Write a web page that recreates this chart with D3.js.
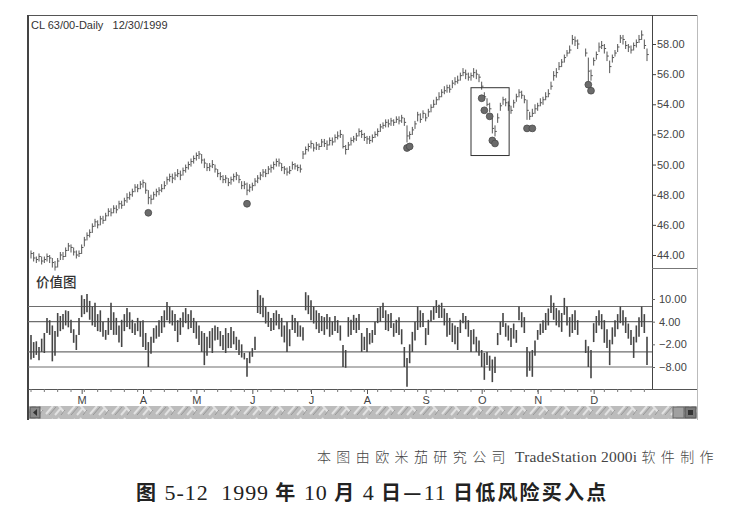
<!DOCTYPE html>
<html><head><meta charset="utf-8">
<script src="https://cdn.jsdelivr.net/npm/d3@7"></script>
<style>body{margin:0;background:#fff;}svg{display:block;}</style>
</head><body>
<svg id="c" width="740" height="520"></svg>
<script>
// ---- data (daily bars, Feb 1 1999 = index 0 ... Dec 30 1999 = index 231) ----
const priceHigh = [
44.3,44.2,43.9,44.1,43.9,43.9,44.1,44.0,43.8,43.6,
43.8,44.2,44.2,44.5,44.8,44.7,44.5,44.3,44.3,44.7,
45.2,45.5,45.7,46.1,46.4,46.3,46.6,46.6,46.8,47.1,
47.1,47.3,47.3,47.6,47.6,47.8,48.1,48.2,48.4,48.7,
48.7,48.9,49.0,48.8,48.3,48.0,48.2,48.4,48.5,48.7,
48.9,49.2,49.4,49.4,49.5,49.7,49.6,49.8,50.0,50.2,
50.4,50.6,50.8,50.9,50.7,50.4,50.1,50.1,50.3,50.0,
49.7,49.5,49.3,49.3,49.1,49.2,49.4,49.5,49.3,48.9,
48.9,48.8,48.7,48.8,49.1,49.3,49.5,49.7,49.7,49.9,
50.0,50.2,50.4,50.4,50.1,49.9,49.8,49.9,50.2,50.1,
50.0,50.0,50.9,51.2,51.4,51.6,51.4,51.5,51.4,51.7,
51.7,51.6,51.8,51.8,52.0,52.2,52.3,52.0,51.3,51.5,
51.8,51.9,52.1,52.4,52.3,52.1,51.9,51.9,52.0,52.2,
52.4,52.7,52.8,53.0,53.0,53.1,53.0,53.2,53.2,53.3,
53.1,52.6,52.2,52.5,52.9,53.5,53.4,53.6,53.4,53.7,
54.0,54.3,54.5,54.8,55.0,55.2,55.3,55.3,55.6,55.8,
55.9,56.1,56.4,56.3,56.1,56.1,56.4,56.3,56.0,55.5,
54.8,54.4,54.1,53.1,52.6,53.4,54.1,54.5,54.4,54.2,
53.9,54.3,54.7,55.0,54.9,54.6,54.3,53.5,53.7,54.0,
54.1,54.4,54.5,54.8,55.0,55.5,56.2,56.4,56.8,57.0,
57.3,57.6,57.9,58.6,58.5,58.3,null,null,57.7,57.1,
56.3,57.1,57.5,58.1,58.2,58.0,57.5,56.9,57.3,57.6,
58.0,58.6,58.6,58.2,58.0,57.9,58.1,58.3,58.6,58.9,58.3,57.7];
const priceLow = [
43.8,43.6,43.5,43.6,43.4,43.5,43.6,43.5,43.2,43.0,
43.2,43.7,43.7,43.9,44.3,44.2,44.0,43.8,43.9,44.1,
44.6,45.0,45.2,45.5,45.9,45.8,46.0,46.1,46.3,46.6,
46.6,46.8,46.8,47.1,47.1,47.3,47.5,47.7,47.9,48.2,
48.2,48.4,48.5,48.1,47.4,47.4,47.7,47.9,48.0,48.2,
48.4,48.7,48.9,48.8,49.0,49.2,49.0,49.3,49.5,49.7,
49.9,50.1,50.3,50.4,50.1,49.8,49.6,49.6,49.8,49.5,
49.2,49.0,48.8,48.8,48.6,48.7,48.9,49.0,48.8,48.4,
48.4,48.0,48.2,48.3,48.6,48.8,49.0,49.2,49.2,49.4,
49.5,49.7,49.9,49.9,49.6,49.4,49.3,49.4,49.7,49.7,
49.6,49.5,50.4,50.7,50.9,51.1,50.9,51.0,51.0,51.2,
51.2,51.0,51.3,51.3,51.5,51.7,51.8,51.1,50.7,51.0,
51.3,51.5,51.6,51.9,51.8,51.6,51.4,51.4,51.5,51.8,
51.9,52.2,52.4,52.5,52.5,52.6,52.6,52.8,52.7,52.8,
52.6,51.5,51.7,52.0,52.4,52.9,52.8,53.1,52.9,53.2,
53.5,53.8,54.0,54.3,54.5,54.7,54.8,54.8,55.1,55.3,
55.4,55.6,55.9,55.7,55.6,55.6,55.8,55.7,55.5,55.0,
54.3,53.9,53.5,52.1,51.9,52.8,53.6,54.0,53.9,53.6,
53.4,53.8,54.2,54.5,54.4,54.1,53.0,53.0,53.2,53.4,
53.6,53.9,54.0,54.3,54.5,55.0,55.6,55.8,56.3,56.5,
56.8,57.2,57.4,58.0,57.9,57.7,null,null,57.2,55.5,
55.6,56.6,57.0,57.5,57.7,57.4,56.9,56.1,56.8,57.2,
57.5,58.1,58.0,57.7,57.5,57.4,57.6,57.8,58.1,58.3,57.7,56.9];
const priceClose = [
44.1,43.8,43.7,43.9,43.6,43.7,43.9,43.8,43.5,43.2,
43.6,44.0,43.9,44.3,44.6,44.5,44.2,44.0,44.1,44.5,
45.0,45.3,45.5,45.9,46.2,46.0,46.4,46.3,46.6,46.9,
46.8,47.1,47.0,47.4,47.3,47.6,47.8,48.0,48.2,48.5,
48.4,48.7,48.8,48.3,47.8,47.7,48.0,48.2,48.3,48.4,
48.6,49.0,49.2,49.1,49.3,49.4,49.3,49.6,49.8,50.0,
50.2,50.4,50.6,50.7,50.3,50.1,49.8,49.9,50.0,49.7,
49.4,49.2,49.0,49.1,48.8,49.0,49.2,49.3,49.0,48.6,
48.7,48.3,48.5,48.6,48.9,49.1,49.3,49.5,49.4,49.7,
49.8,50.0,50.2,50.1,49.8,49.7,49.5,49.6,50.0,49.9,
49.8,49.7,50.7,51.0,51.2,51.4,51.1,51.3,51.2,51.5,
51.4,51.3,51.6,51.5,51.8,51.9,52.0,51.2,51.0,51.3,
51.6,51.7,51.9,52.2,52.0,51.8,51.7,51.6,51.8,52.0,
52.2,52.5,52.6,52.8,52.7,52.9,52.8,53.0,52.9,53.1,
52.8,51.9,52.0,52.3,52.7,53.3,53.0,53.4,53.1,53.5,
53.8,54.0,54.3,54.5,54.8,54.9,55.1,55.0,55.4,55.5,
55.6,55.9,56.1,56.0,55.8,55.9,56.1,56.0,55.8,55.2,
54.5,54.0,53.7,52.4,52.2,53.1,53.9,54.3,54.1,53.9,
53.6,54.1,54.5,54.8,54.6,54.3,53.6,53.2,53.4,53.7,
53.9,54.1,54.3,54.5,54.7,55.2,55.9,56.1,56.5,56.8,
57.1,57.4,57.6,58.3,58.2,58.0,null,null,57.4,56.2,
55.9,56.9,57.3,57.8,57.9,57.7,57.2,56.5,57.1,57.4,
57.8,58.4,58.3,57.9,57.8,57.6,57.9,58.1,58.3,58.6,57.9,57.3];
const valueHigh = [
0.5,-1.4,-1.2,-2.7,-0.5,1,5,4.4,3,1.5,
6.3,5.5,6,7,6.8,4.5,2,0.5,5,11,
10,11.3,9.5,8,9,6,7,4,1.8,5,
9,6.5,5,3,4.5,6,7.6,6.5,4.5,3.6,
5,4.2,4.4,1,-1.4,0,2.3,3,4.4,5.5,
7,9.2,8,7,6,4.4,5,6.5,7.6,6,
7,5,4,3,1.5,1,0,1.5,2.3,3,
2.6,1.5,0.5,2.3,1,2.6,1.5,0,-0.8,-2,
-4.3,-5.6,-4,-3,0,12.4,11,10.3,8,6.6,
5,6.3,7,6,5,3,4,2,5.8,5,
4,3,2.5,11.8,11,9.7,8,7,6.3,5.5,
5.2,6,5.2,4,5.5,4.4,3,-2.2,-3.5,5.2,
4.5,5.8,5,6,1,0,2.3,1,1.8,4,
7.6,8,9,7,6,6.3,3.6,4.5,5.2,2,
-2.7,-5.6,-2,1.3,4,8,7,6.3,2.3,4.5,
7,8,9.7,8.5,9,7.5,6.3,5,3.6,3,
2.6,4.5,6.3,5.5,4.4,1.8,2,0,-1,-3.5,
-4.3,-4,-5,-6,-5.3,1,4,6.3,3.6,3,
2.3,3.5,1.8,8,6.5,5.2,-2.7,-4,-3.5,-1,
1.8,3.5,4.4,6.3,7.5,11,9,7.6,7,6.3,
10.3,8,5.2,6,7,4.4,null,null,-0.8,-2.5,
-3.5,3.6,5.5,7,6,4.4,2,-0.8,2.5,4.4,
6,8,7,5.2,3.5,1.8,0,3,5.2,8,6,0];
const valueLow = [
-6,-5.6,-4.8,-6.2,-4,-4.3,1,0.5,-6.5,-5,
0,1.5,2,3,2.5,1,-1.6,-3.5,0.5,5.2,
6,6.5,4.5,3,2.6,1.5,1.3,0,-0.8,0.5,
1.8,0.5,0.5,-1.5,-2.7,1.5,2.6,2,1,0.5,
1.5,0,-2.7,-3.5,-8,-4.5,-1.6,-0.5,0,1,
2.5,4.4,3.5,3,1.5,-1.4,0.5,2.5,3.6,2,
2.3,1,-0.5,-2.2,-4,-7.5,-5,-3,-4.3,-1,
-0.8,-2.5,-3.5,-4.3,-3,-3,-2,-3.5,-4.8,-5.5,
-6,-10.6,-7,-5.3,-3.5,6.3,6,5.2,3.5,2.6,
1.5,1.8,3,2,0,-1.5,-4,-2.5,1.8,1,
0,0,-1,7,6,4.4,3.5,2,1,1.5,
0.5,2,0,0.5,1.5,1,-1,-8,-8.2,0,
0.5,1.8,1,1.8,-4,-3.5,-4,-2,-1.6,0.5,
3.6,4,5,1.8,1.5,2.3,0,1,0.5,-2,
-8,-13.2,-7,-4,-1,1.8,2.5,2.6,-2.2,0.5,
4,4.5,6.3,5,5,3,0,0.5,-1.4,-2,
-3.5,1,3.6,2,0,-4,-2,-4,-5,-8,
-11.4,-7.5,-9,-12,-9.6,-2.2,0.5,2.6,0,-1,
-2.7,-0.5,-1.6,4.4,2.5,1,-10.6,-9,-10.6,-5,
-0.8,0.5,1,1.8,3,6.3,4.5,3,2.5,1.3,
5.8,3,0,1,1.8,0.5,null,null,-4.3,-8,
-11,-1.4,1,3,2,-1.6,-3,-7.5,-2,0,
2,3.6,3,1,-0.5,-2.2,-5.6,-1.5,0,2.6,1,-7.5];
// low-risk buy signals: [bar index, price]
const buySignals = [[44,46.8],[81,47.4],[141,51.1],[142,51.2],[169,54.4],[170,53.6],[172,53.2],[173,51.6],[174,51.4],[186,52.4],[188,52.4],[209,55.3],[210,54.9]];
// highlighted zone: [from index, to index, low price, high price]
const highlightZone = [165, 179.3, 50.6, 55.1];
const priceTicks = [44,46,48,50,52,54,56,58];
const valueTicks = [10,4,-2,-8];
const valueBands = [8,4,-4,-8];
const monthStarts = [19,42,62,83,105,126,148,169,190,211];
const monthLabels = ['M','A','M','J','J','A','S','O','N','D'];
const headerText = 'CL 63/00-Daily   12/30/1999';
const panelLabel = '价值图';
const sourceText = '本图由欧米茄研究公司 TradeStation 2000i 软件制作';
const titleText = '图 5-12  1999 年 10 月 4 日—11 日低风险买入点';

// ---- drawing ----
const svg = d3.select('#c');
const FONT = '"Liberation Sans", Arial, sans-serif';
const L = 28, R = 697, AX = 652, TOP = 15, TAX = 389;
const x = d3.scaleLinear().domain([0, 231]).range([31, 647]);
const yP = d3.scaleLinear().domain([44, 58]).range([255, 44]);
const yV = d3.scaleLinear().domain([-8, 10]).range([367, 299]);
const idx = d3.range(priceHigh.length);

// frame
const fr = svg.append('g').attr('stroke', '#555').attr('stroke-width', 1).attr('shape-rendering','crispEdges');
fr.append('line').attr('x1', L).attr('x2', R).attr('y1', TOP).attr('y2', TOP);
fr.append('line').attr('x1', L).attr('x2', L).attr('y1', TOP).attr('y2', 420).attr('stroke-width', 1.6).attr('stroke','#444');
fr.append('line').attr('x1', R).attr('x2', R).attr('y1', TOP).attr('y2', 420).attr('stroke', '#bbb');
fr.append('line').attr('x1', AX).attr('x2', AX).attr('y1', TOP).attr('y2', TAX).attr('stroke','#444');
fr.append('line').attr('x1', AX).attr('x2', R).attr('y1', 268).attr('y2', 268).attr('stroke','#777');
fr.append('line').attr('x1', L).attr('x2', R).attr('y1', TAX).attr('y2', TAX).attr('stroke','#555');

// header
svg.append('text').attr('x', 31).attr('y', 29).attr('font-family', FONT).attr('font-size', 11)
  .attr('fill', '#333').style('white-space','pre').text(headerText);

// price axis
const pAxis = svg.append('g').attr('transform', `translate(${AX},0)`)
  .call(d3.axisRight(yP).tickValues(priceTicks).tickFormat(d3.format('.2f')).tickSize(4).tickPadding(1));
pAxis.select('.domain').remove();
pAxis.selectAll('line').attr('stroke', '#444');
pAxis.selectAll('text').attr('font-family', FONT).attr('font-size', 11).attr('fill', '#444');

// value axis
const vAxis = svg.append('g').attr('transform', `translate(${AX},0)`)
  .call(d3.axisRight(yV).tickValues(valueTicks).tickFormat(d3.format('.2f')).tickSize(3).tickPadding(4));
vAxis.select('.domain').remove();
vAxis.selectAll('line').attr('stroke', '#666');
vAxis.selectAll('text').attr('font-family', FONT).attr('font-size', 11).attr('fill', '#444');

// price bars
const pb = svg.append('g').attr('stroke', '#555').attr('stroke-width', 1);
const valid = idx.filter(i => priceHigh[i] != null);
pb.selectAll('line.hl').data(valid).join('line').attr('class','hl')
  .attr('x1', i => x(i)).attr('x2', i => x(i))
  .attr('y1', i => yP(priceHigh[i])).attr('y2', i => yP(priceLow[i]) + 0.5);
pb.selectAll('line.cl').data(valid).join('line').attr('class','cl')
  .attr('x1', i => x(i)).attr('x2', i => x(i) + 1.8)
  .attr('y1', i => yP(priceClose[i])).attr('y2', i => yP(priceClose[i]));

// buy signal dots
svg.append('g').selectAll('circle').data(buySignals).join('circle')
  .attr('cx', d => x(d[0])).attr('cy', d => yP(d[1])).attr('r', 3.4)
  .attr('fill', '#6b6b6b').attr('stroke', '#4a4a4a').attr('stroke-width', 0.8);

// highlight box
svg.append('rect')
  .attr('x', x(highlightZone[0])).attr('y', yP(highlightZone[3]))
  .attr('width', x(highlightZone[1]) - x(highlightZone[0]))
  .attr('height', yP(highlightZone[2]) - yP(highlightZone[3]))
  .attr('fill', 'none').attr('stroke', '#333').attr('stroke-width', 1);

// value panel label
svg.append('text').attr('x', 36).attr('y', 287).attr('font-family', '"Noto Sans CJK SC", sans-serif')
  .attr('font-size', 13.5).attr('font-weight', 500).attr('fill', '#333').text(panelLabel);

// value bands
svg.append('g').selectAll('line').data(valueBands).join('line')
  .attr('x1', L).attr('x2', AX).attr('y1', d => yV(d)).attr('y2', d => yV(d))
  .attr('stroke', '#6e6e6e').attr('stroke-width', 1.1);

// value bars
const vValid = idx.filter(i => valueHigh[i] != null);
svg.append('g').selectAll('line').data(vValid).join('line')
  .attr('x1', i => x(i)).attr('x2', i => x(i))
  .attr('y1', i => yV(valueHigh[i])).attr('y2', i => yV(valueLow[i]))
  .attr('stroke', '#454545').attr('stroke-width', 1.6);

// time axis
const tAxis = svg.append('g').attr('transform', `translate(0,${TAX})`)
  .call(d3.axisBottom(x).tickValues(monthStarts).tickFormat((d, i) => monthLabels[i]).tickSize(5).tickPadding(2));
tAxis.select('.domain').remove();
tAxis.selectAll('line').attr('stroke', '#555');
tAxis.selectAll('text').attr('font-family', FONT).attr('font-size', 11).attr('fill', '#444');
svg.append('g').selectAll('line').data(d3.range(0, 232, 5)).join('line')
  .attr('x1', d => x(d)).attr('x2', d => x(d)).attr('y1', TAX).attr('y2', TAX + 3)
  .attr('stroke', '#777');

// scrollbar
const defs = svg.append('defs');
const pat = defs.append('pattern').attr('id', 'tex').attr('patternUnits', 'userSpaceOnUse')
  .attr('width', 22).attr('height', 13);
pat.append('rect').attr('width', 22).attr('height', 13).attr('fill', '#bcbcbc');
pat.append('path').attr('d', 'M2 11 L9 3 M11 12 L17 5 M14 2 L20 9').attr('stroke', '#e2e2e2').attr('stroke-width', 2);
pat.append('path').attr('d', 'M5 12 L12 4 M17 12 L21 7').attr('stroke', '#979797').attr('stroke-width', 1);
svg.append('rect').attr('x', L + 1).attr('y', 406).attr('width', R - L - 1).attr('height', 13).attr('fill', 'url(#tex)');
svg.append('rect').attr('x', L + 2).attr('y', 407).attr('width', 10).attr('height', 11).attr('fill', '#8a8a8a').attr('stroke', '#555');
svg.append('path').attr('d', `M${L+9} 409 L${L+5} 412.5 L${L+9} 416 Z`).attr('fill', '#333');
svg.append('rect').attr('x', 673).attr('y', 407).attr('width', 11).attr('height', 11).attr('fill', '#a0a0a0').attr('stroke', '#666');
svg.append('rect').attr('x', 685).attr('y', 407).attr('width', 11).attr('height', 11).attr('fill', '#7a7a7a').attr('stroke', '#555');
svg.append('rect').attr('x', 688).attr('y', 410).attr('width', 5).attr('height', 5).attr('fill', '#333');

// captions: CJK runs and Latin runs styled separately
const isCJK = s => /[\u3000-\u9fff—]/.test(s);
function runs(str) { return str.match(/[\u3000-\u9fff—]+|[^\u3000-\u9fff—]+/g); }

const src = svg.append('text').attr('x', 719).attr('y', 462).attr('text-anchor', 'end')
  .attr('fill', '#444').style('white-space', 'pre');
src.selectAll('tspan').data(runs(sourceText)).join('tspan')
  .attr('font-family', d => isCJK(d) ? '"Noto Sans CJK SC", sans-serif' : '"Liberation Serif", serif')
  .attr('font-size', d => isCJK(d) ? 14 : 15.5)
  .attr('font-weight', d => isCJK(d) ? 300 : 400)
  .attr('letter-spacing', d => isCJK(d) ? 5.4 : 0.2)
  .text(d => d);

const ttl = svg.append('text').attr('x', 136).attr('y', 500)
  .attr('fill', '#222').style('white-space', 'pre');
ttl.selectAll('tspan').data(runs(titleText)).join('tspan')
  .attr('font-family', d => isCJK(d) ? '"Noto Sans CJK SC", sans-serif' : '"Liberation Serif", serif')
  .attr('font-size', d => isCJK(d) ? 20 : 22)
  .attr('font-weight', d => isCJK(d) ? 700 : 400)
  .attr('letter-spacing', d => isCJK(d) ? 2.2 : 0.9)
  .text(d => d);
</script>
</body></html>
